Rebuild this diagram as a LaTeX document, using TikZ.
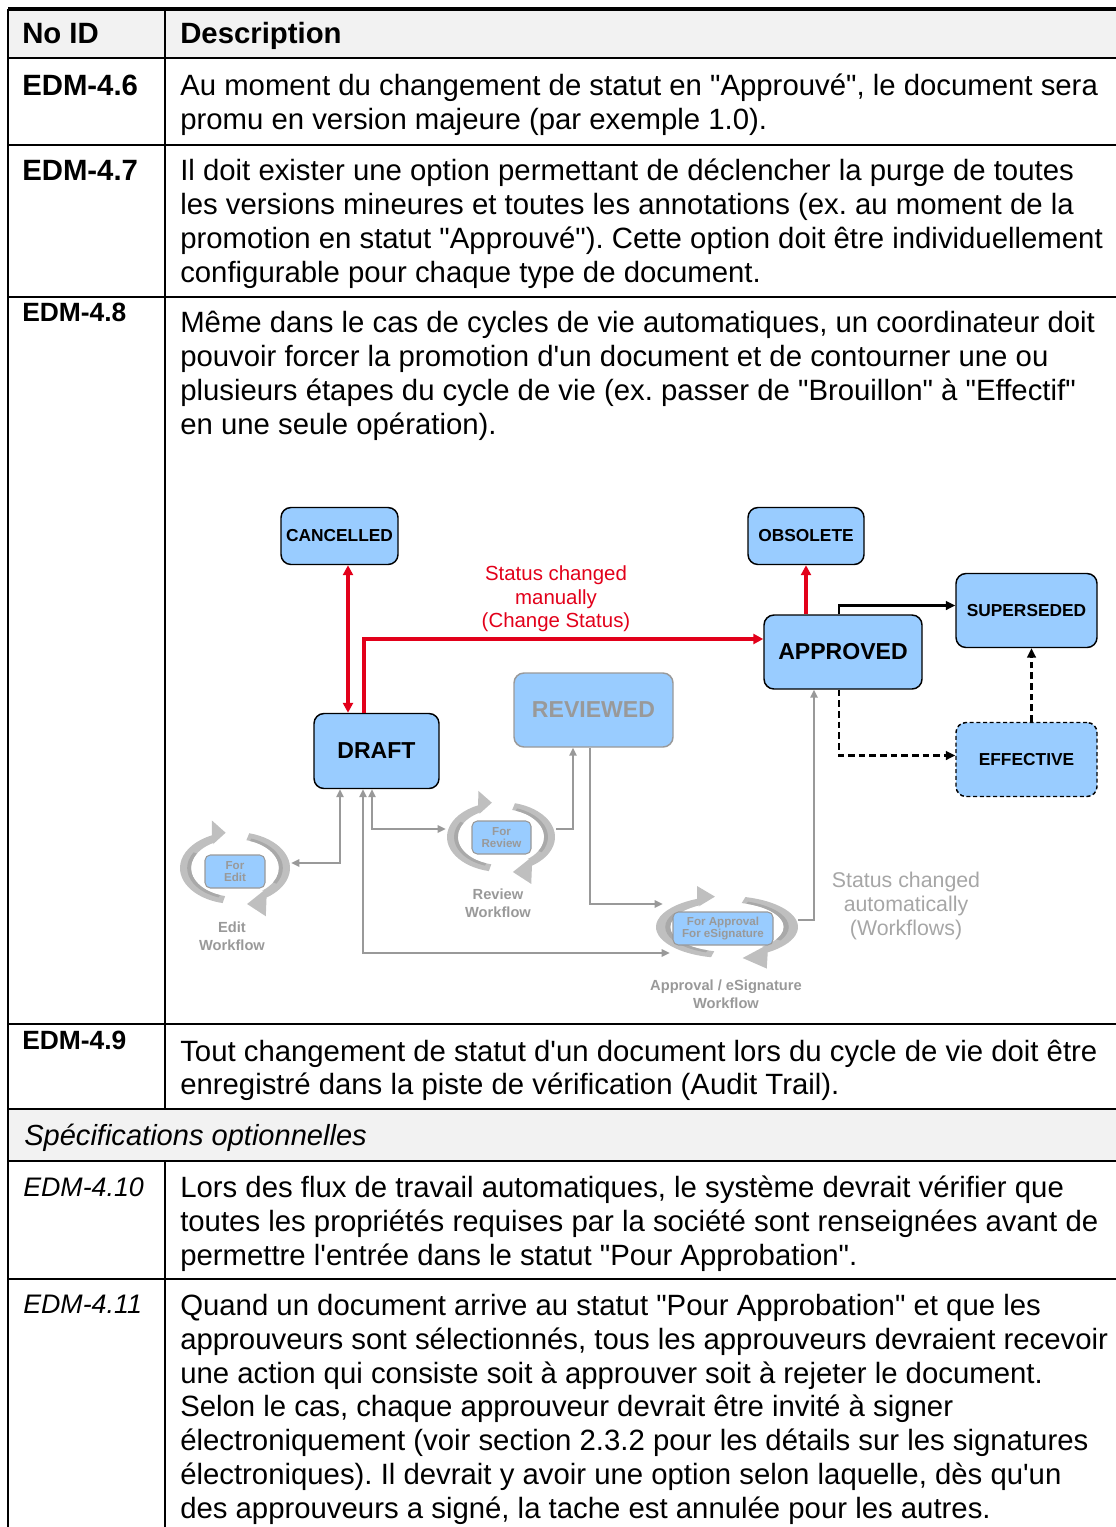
\documentclass[tikz,border=0pt]{standalone}
\usepackage{fontspec}
\setmainfont{Liberation Sans}[Ligatures=TeXOff]
\usetikzlibrary{arrows.meta,calc}

\definecolor{cellgray}{HTML}{F2F2F2}
\definecolor{statefill}{HTML}{99CCFF}
\definecolor{manualred}{HTML}{E2001A}
\definecolor{wfline}{HTML}{999999}
\definecolor{wfarc}{HTML}{BFBFBF}
\definecolor{wfshade}{HTML}{A9A9A9}
\definecolor{autotext}{HTML}{A6A6A6}

% circular "workflow" symbol: two curved arrows round an ellipse
% #1 centre, #2 x radius, #3 y radius (pixels)
\newcommand\wfcycle[3]{%
  \begin{scope}[shift={#1}, xscale=#2, yscale=-#3]
    \fill[wfarc] (257:1) arc[start angle=257, end angle=115, radius=1]
      -- (-0.42,1.32) -- (-0.17,0.98) -- (-0.40,0.66)
      -- (118:0.8) arc[start angle=118, end angle=257, radius=0.8] -- cycle;
    \fill[wfarc] (75:1) arc[start angle=75, end angle=-55, radius=1]
      -- (0.56,-1.34) -- (0.22,-1.0) -- (0.53,-0.62)
      -- (-52:0.8) arc[start angle=-52, end angle=75, radius=0.8] -- cycle;
    \fill[wfshade] (250:0.8) arc[start angle=250, end angle=150, radius=0.8]
      -- (150:0.87) arc[start angle=150, end angle=250, radius=0.87] -- cycle;
    \fill[wfshade] (70:0.8) arc[start angle=70, end angle=-30, radius=0.8]
      -- (-30:0.87) arc[start angle=-30, end angle=70, radius=0.87] -- cycle;
  \end{scope}}

\begin{document}
\frenchspacing
\begin{tikzpicture}[x=0.75pt,y=-0.75pt,
  rule/.style={line width=1.9pt},
  body/.style={anchor=base west, inner sep=0pt, font=\fontsize{22}{25.5}\selectfont},
  idlbl/.style={body, font=\fontsize{22}{25.5}\selectfont\bfseries},
  idsmall/.style={body, font=\fontsize{19.8}{23}\selectfont\bfseries},
  iditalic/.style={body, font=\fontsize{20.1}{24}\selectfont\itshape},
  spechead/.style={body, font=\fontsize{21.8}{25.5}\selectfont\itshape},
  state/.style={draw=black, line width=1.1pt, fill=statefill, rounded corners=7.5pt,
    inner sep=0pt, font=\fontsize{13}{15}\selectfont\bfseries},
  bigstate/.style={state, font=\fontsize{17.3}{20}\selectfont\bfseries},
  wfbox/.style={draw=wfline, line width=0.8pt, fill=statefill, rounded corners=4pt,
    inner sep=0pt, text=wfline, align=center, font=\fontsize{8.7}{9.5}\selectfont\bfseries},
  wflbl/.style={text=wfline, align=center, inner sep=0pt, font=\fontsize{11}{13.5}\selectfont\bfseries},
  wfarea/.style={inner sep=0pt},
  manual/.style={draw=manualred, line width=2.8pt, -{Triangle[length=7.5pt,width=7.5pt]}},
  manualboth/.style={manual, {Triangle[length=7.5pt,width=7.5pt]}-{Triangle[length=7.5pt,width=7.5pt]}},
  trans/.style={draw=black, line width=1.6pt, -{Triangle[length=7pt,width=6.5pt]}},
  transdash/.style={trans, dash pattern=on 5pt off 3pt},
  wfarrow/.style={draw=wfline, line width=1.5pt, -{Triangle[length=6pt,width=5.5pt]}},
  wfboth/.style={wfarrow, {Triangle[length=6pt,width=5.5pt]}-{Triangle[length=6pt,width=5.5pt]}}
]
\useasboundingbox (0,0) rectangle (1116,1527);

% ---------- table frame ----------
\fill[cellgray] (8,9) rectangle (1116,58);
\fill[cellgray] (8,1109) rectangle (1116,1161);
\draw[line width=2.3pt] (8,9) -- (1116,9);
\draw[rule] (8,9) -- (8,1527);
\draw[rule] (165,9) -- (165,1109);
\draw[rule] (165,1161) -- (165,1527);
\foreach \yy in {58,145,297,1024,1109,1161,1279}
  \draw[rule] (8,\yy) -- (1116,\yy);

% ---------- table text ----------
\node[idlbl] (hid) at (22,44) {No ID};
\node[idlbl] (hdesc) at (180,44) {Description};

\node[idlbl] (id46) at (22,95) {EDM-4.6};
\node[body] (d46a) at (180,95) {Au moment du changement de statut en "Approuvé", le document sera};
\node[body] (d46b) at (180,129) {promu en version majeure (par exemple 1.0).};

\node[idlbl] (id47) at (22,180) {EDM-4.7};
\node[body] (d47a) at (180,180) {Il doit exister une option permettant de déclencher la purge de toutes};
\node[body] (d47b) at (180,214) {les versions mineures et toutes les annotations (ex. au moment de la};
\node[body] (d47c) at (180,248) {promotion en statut "Approuvé"). Cette option doit être individuellement};
\node[body] (d47d) at (180,282) {configurable pour chaque type de document.};

\node[idsmall] (id48) at (22,321) {EDM-4.8};
\node[body] (d48a) at (180,332) {Même dans le cas de cycles de vie automatiques, un coordinateur doit};
\node[body] (d48b) at (180,366) {pouvoir forcer la promotion d'un document et de contourner une ou};
\node[body] (d48c) at (180,400) {plusieurs étapes du cycle de vie (ex. passer de "Brouillon" à "Effectif"};
\node[body] (d48d) at (180,434) {en une seule opération).};

\node[idsmall] (id49) at (22,1049) {EDM-4.9};
\node[body] (d49a) at (180,1061) {Tout changement de statut d'un document lors du cycle de vie doit être};
\node[body] (d49b) at (180,1094) {enregistré dans la piste de vérification (Audit Trail).};

\node[spechead] (opt) at (24,1145) {Spécifications optionnelles};

\node[iditalic] (id410) at (23,1196) {EDM-4.10};
\node[body] (d410a) at (180,1197) {Lors des flux de travail automatiques, le système devrait vérifier que};
\node[body] (d410b) at (180,1231) {toutes les propriétés requises par la société sont renseignées avant de};
\node[body] (d410c) at (180,1265) {permettre l'entrée dans le statut "Pour Approbation".};

\node[iditalic] (id411) at (23,1313) {EDM-4.11};
\node[body] (d411a) at (180,1315) {Quand un document arrive au statut "Pour Approbation" et que les};
\node[body] (d411b) at (180,1349) {approuveurs sont sélectionnés, tous les approuveurs devraient recevoir};
\node[body] (d411c) at (180,1383) {une action qui consiste soit à approuver soit à rejeter le document.};
\node[body] (d411d) at (180,1416) {Selon le cas, chaque approuveur devrait être invité à signer};
\node[body] (d411e) at (180,1450) {électroniquement (voir section 2.3.2 pour les détails sur les signatures};
\node[body] (d411f) at (180,1484) {électroniques). Il devrait y avoir une option selon laquelle, dès qu'un};
\node[body] (d411g) at (180,1518) {des approuveurs a signé, la tache est annulée pour les autres.};

% ---------- life-cycle diagram: states ----------
\node[state, minimum width=117*0.75pt, minimum height=57*0.75pt] (cancelled) at (339.5,536) {CANCELLED};
\node[state, minimum width=116*0.75pt, minimum height=57*0.75pt] (obsolete) at (806,536) {OBSOLETE};
\node[state, minimum width=141*0.75pt, minimum height=74*0.75pt] (superseded) at (1026.5,610.5) {SUPERSEDED};
\node[bigstate, minimum width=158*0.75pt, minimum height=74*0.75pt] (approved) at (843,652) {APPROVED};
\node[state, dash pattern=on 3pt off 2pt, minimum width=141*0.75pt, minimum height=74*0.75pt] (effective) at (1026.5,759.5) {EFFECTIVE};
\node[bigstate, draw=wfline, text=wfline, minimum width=159*0.75pt, minimum height=74*0.75pt] (reviewed) at (593.5,710) {REVIEWED};
\node[bigstate, minimum width=125*0.75pt, minimum height=75*0.75pt] (draft) at (376.5,751) {DRAFT};

% ---------- workflow symbols ----------
\wfcycle{(235,868)}{55}{36}
\wfcycle{(501,837)}{54}{35}
\wfcycle{(727,927)}{71}{31}
\node[wfarea, minimum width=112*0.75pt, minimum height=72*0.75pt] (editwf) at (235,868) {};
\node[wfarea, minimum width=110*0.75pt, minimum height=70*0.75pt] (reviewwf) at (501,836) {};
\node[wfarea, minimum width=142*0.75pt, minimum height=62*0.75pt] (apprwf) at (727,925) {};

\node[wfbox, minimum width=60*0.75pt, minimum height=33*0.75pt] (forEdit) at (235,871.5) {For\\Edit};
\node[wfbox, minimum width=59*0.75pt, minimum height=33*0.75pt] (forReview) at (501.5,837.5) {For\\Review};
\node[wfbox, minimum width=100*0.75pt, minimum height=33*0.75pt] (forApproval) at (723,928.5) {For Approval\\For eSignature};

\node[wflbl] (editlbl) at (232,936) {Edit\\Workflow};
\node[wflbl] (reviewlbl) at (498,903) {Review\\Workflow};
\node[wflbl] (apprlbl) at (726,994) {Approval / eSignature\\Workflow};

% ---------- manual transitions ----------
\draw[manualboth] ($(cancelled.south)+(8.5,0)$) -- ($(draft.north)+(-28.5,0)$);
\draw[manual] ($(draft.north)+(-12.5,0)$) |- ($(approved.west)+(0,-13)$);
\draw[manual] (approved.north -| obsolete.south) -- (obsolete.south);
\node[text=manualred, align=center, inner sep=0pt, font=\fontsize{15.3}{17.6}\selectfont] (manuallbl) at (556,599)
  {Status changed\\manually\\(Change Status)};

% ---------- follow-on transitions ----------
\draw[trans] ($(approved.north)+(-4,0)$) |- ($(superseded.west)+(0,-5)$);
\draw[transdash] ($(approved.south)+(-4,0)$) |- ($(effective.west)+(0,-4)$);
\draw[transdash] ($(effective.north)+(5,0)$) -- ($(superseded.south)+(5,0)$);

% ---------- automatic (workflow) transitions ----------
\draw[wfboth] ($(draft.south)+(-36.5,0)$) |- ($(editwf.east)+(0,-5)$);
\draw[wfboth] ($(draft.south)+(-4.5,0)$) |- ($(reviewwf.west)+(0,-7)$);
\draw[wfarrow] ($(reviewwf.east)+(0,-7)$) -| ($(reviewed.south)+(-20.5,0)$);
\draw[wfarrow] ($(reviewed.south)+(-3.5,0)$) |- ($(apprwf.west)+(7,-21)$);
\draw[wfboth] ($(draft.south)+(-13.5,0)$) |- ($(apprwf.west)+(14,28)$);
\draw[wfarrow] ($(apprwf.east)+(0,-5)$) -| ($(approved.south)+(-29,0)$);

\node[text=autotext, align=center, inner sep=0pt, font=\fontsize{16}{18}\selectfont] (autolbl) at (906,906)
  {Status changed\\automatically\\(Workflows)};

\end{tikzpicture}
\end{document}
